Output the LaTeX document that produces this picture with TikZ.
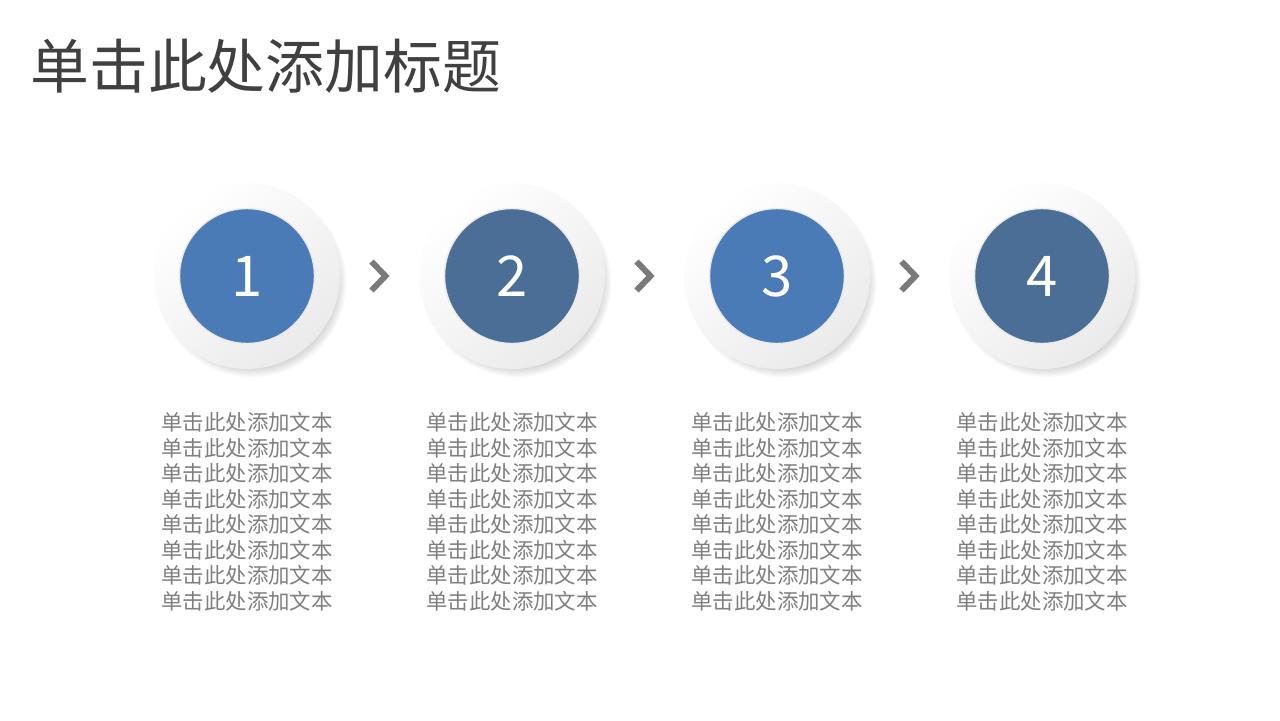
\documentclass[tikz,border=0pt]{standalone}
\usepackage{fontspec}
\usepackage{xcolor}
\usepackage{tikz}
\usetikzlibrary{positioning,calc,shadows,fadings}
\newfontfamily\cjk{Noto Sans CJK SC}
\definecolor{titlegray}{HTML}{404040}
\definecolor{textgray}{HTML}{7F7F7F}
\definecolor{lightblue}{HTML}{4A7BB6}
\definecolor{darkblue}{HTML}{4B6E96}
\definecolor{chevrongray}{HTML}{7A7A7A}
\newcommand{\stepline}{单击此处添加文本}
\newcommand{\steptext}{\stepline\\\stepline\\\stepline\\\stepline\\\stepline\\\stepline\\\stepline\\\stepline}

\begin{document}
\begin{tikzpicture}[x=0.02cm, y=-0.02cm,
    ring/.style={circle, minimum size=3.72cm, inner sep=0pt,
      top color=white, bottom color=black!8, shading angle=40,
      circular drop shadow={shadow xshift=2.5pt, shadow yshift=-3.5pt, opacity=0.45, shadow scale=1.02}},
    disc/.style={circle, minimum size=2.7cm, inner sep=0pt, draw=black!8, line width=0.8pt,
      text=white, font=\cjk\fontsize{32}{36}\selectfont},
    steptext/.style={align=center, inner sep=0pt, text=textgray,
      font=\cjk\fontsize{12.2}{14.5}\selectfont},
    chevron/.style={draw=chevrongray, line width=3.4pt, miter limit=10}]
  \useasboundingbox [fill=white] (0,0) rectangle (1280,720);
  % title
  \node [anchor=west, inner sep=0pt, text=titlegray, font=\cjk\fontsize{33.5}{36}\selectfont] (title) at (30,66) {单击此处添加标题};
  % steps
  \node [ring] (ring1) at (247,276) {};
  \node [ring] (ring2) at (512,276) {};
  \node [ring] (ring3) at (777,276) {};
  \node [ring] (ring4) at (1042,276) {};
  \node [disc, fill=lightblue] (disc1) at (ring1) {1};
  \node [disc, fill=darkblue] (disc2) at (ring2) {2};
  \node [disc, fill=lightblue] (disc3) at (ring3) {3};
  \node [disc, fill=darkblue] (disc4) at (ring4) {4};
  % chevrons
  \draw [chevron] ($(ring1)!.5!(ring2)$) ++(-8,-14.5) -- ++(14,14.5) -- ++(-14,14.5);
  \draw [chevron] ($(ring2)!.5!(ring3)$) ++(-8,-14.5) -- ++(14,14.5) -- ++(-14,14.5);
  \draw [chevron] ($(ring3)!.5!(ring4)$) ++(-8,-14.5) -- ++(14,14.5) -- ++(-14,14.5);
  % texts
  \node [steptext, below=0.86cm of ring1] (text1) {\steptext};
  \node [steptext, below=0.86cm of ring2] (text2) {\steptext};
  \node [steptext, below=0.86cm of ring3] (text3) {\steptext};
  \node [steptext, below=0.86cm of ring4] (text4) {\steptext};
\end{tikzpicture}
\end{document}
